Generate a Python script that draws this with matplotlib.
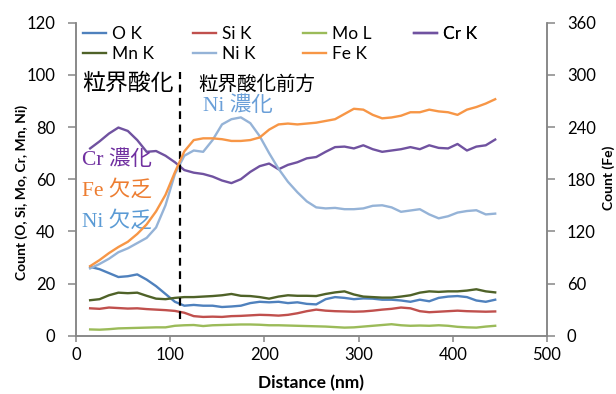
import matplotlib
matplotlib.use("Agg")
import matplotlib.pyplot as plt
from matplotlib.lines import Line2D

plt.rcParams['font.family'] = ['Lato', 'Noto Sans CJK JP', 'DejaVu Sans']

distance = [15, 25, 35, 45, 55, 65, 75, 85, 95, 105, 115, 125, 135, 145, 155,
            165, 175, 185, 195, 205, 215, 225, 235, 245, 255, 265, 275, 285,
            295, 305, 315, 325, 335, 345, 355, 365, 375, 385, 395, 405, 415,
            425, 435, 445]

o_k = [26.4, 25.5, 24.0, 22.5, 22.8, 23.5, 21.5, 19.0, 16.0, 13.0, 11.5, 11.8,
       11.5, 11.5, 11.0, 11.2, 11.5, 12.5, 13.0, 12.8, 13.0, 12.5, 12.8, 12.2,
       12.0, 14.0, 14.8, 14.5, 14.0, 14.3, 14.2, 13.8, 13.8, 13.5, 13.0, 13.8,
       13.2, 14.5, 15.0, 15.2, 14.8, 13.5, 13.0, 13.8]

si_k = [10.5, 10.3, 10.8, 10.6, 10.4, 10.5, 10.2, 10.0, 9.8, 9.5, 8.8, 7.5,
        7.2, 7.3, 7.2, 7.5, 7.6, 7.8, 8.0, 7.9, 7.7, 8.0, 8.6, 9.4, 10.0, 9.6,
        9.4, 9.3, 9.2, 9.3, 9.6, 10.0, 10.3, 10.8, 10.5, 9.4, 9.0, 9.2, 9.4,
        9.6, 9.4, 9.3, 9.2, 9.3]

mo_l = [2.4, 2.3, 2.5, 2.8, 2.9, 3.0, 3.1, 3.2, 3.2, 3.8, 4.0, 4.1, 3.7, 4.0,
        4.1, 4.2, 4.3, 4.3, 4.2, 4.0, 4.0, 3.9, 3.8, 3.7, 3.6, 3.5, 3.3, 3.1,
        3.2, 3.5, 3.8, 4.1, 4.4, 4.0, 3.8, 3.9, 3.8, 4.0, 3.8, 3.4, 3.2, 3.1,
        3.5, 3.8]

cr_k = [71.8, 74.5, 77.5, 79.8, 78.5, 75.0, 70.5, 70.8, 69.0, 66.5, 63.5, 62.5,
        62.0, 61.0, 59.5, 58.5, 60.0, 62.8, 65.0, 66.0, 63.8, 65.5, 66.5, 68.0,
        68.5, 70.5, 72.3, 72.5, 71.8, 73.0, 71.5, 70.5, 71.0, 71.5, 72.3, 71.5,
        73.0, 72.0, 71.8, 73.5, 71.0, 72.5, 73.0, 75.2]

mn_k = [13.6, 14.0, 15.5, 16.5, 16.3, 16.5, 15.3, 14.2, 14.0, 14.5, 14.8, 14.8,
        15.0, 15.2, 15.5, 16.0, 15.3, 15.2, 14.8, 14.2, 15.0, 15.5, 15.3, 15.3,
        15.2, 16.0, 16.6, 17.0, 15.8, 15.0, 14.8, 14.6, 14.6, 15.0, 15.5, 16.5,
        17.0, 16.8, 17.0, 17.0, 17.3, 17.8, 17.0, 16.6]

ni_k = [25.8, 27.5, 29.5, 32.0, 33.5, 35.5, 37.5, 41.5, 50.0, 62.0, 69.0, 71.0,
        70.5, 75.0, 81.0, 83.0, 83.7, 81.5, 76.5, 70.0, 64.0, 59.0, 55.0, 51.5,
        49.2, 48.8, 49.0, 48.5, 48.5, 48.8, 49.8, 50.0, 49.2, 47.5, 48.0, 48.5,
        46.5, 45.0, 45.8, 47.2, 47.8, 48.1, 46.5, 46.8]

# Fe on the secondary axis (0-360)
fe_k = [80, 87, 95, 102, 108, 117, 128, 143, 162, 188, 212, 225, 227, 227,
        226, 224, 224, 225, 228, 237, 243, 244, 243, 244, 245, 247, 249, 255,
        261, 260, 254, 250, 251, 253, 257, 257, 260, 258, 257, 254, 260, 263,
        267, 272]

series_left = [("O K", o_k, "#4F81BD"), ("Si K", si_k, "#C0504D"),
               ("Mo L", mo_l, "#9BBB59"), ("Cr K", cr_k, "#7052A0"),
               ("Mn K", mn_k, "#4F6228"), ("Ni K", ni_k, "#95B3D7")]

fig = plt.figure(figsize=(6.16, 3.94), dpi=100)
ax = fig.add_axes([76/616, 1-335.7/394, 471/616, 313/394])
ax2 = ax.twinx()

lines = {}
for name, vals, col in series_left:
    ln, = ax.plot(distance, vals, color=col, lw=1.7, label=name,
                  solid_joinstyle='round')
    lines[name] = ln
ln, = ax2.plot(distance, fe_k, color="#F79646", lw=1.7, label="Fe K")
lines["Fe K"] = ln

ax.plot([110, 110], [6.5, 101], color='black', lw=1.6,
        linestyle=(0, (3.5, 2.5)))

ax.set_xlim(0, 500)
ax.set_ylim(0, 120)
ax2.set_ylim(0, 360)
ax.set_xticks([0, 100, 200, 300, 400, 500])
ax.set_yticks(range(0, 121, 20))
ax2.set_yticks(range(0, 361, 60))

gray = "#868686"
for a in (ax, ax2):
    for s in a.spines.values():
        s.set_color(gray)
        s.set_linewidth(1.1)
    a.spines['top'].set_visible(False)
ax.tick_params(axis='y', length=5.8, width=1.1, color=gray, pad=9,
               labelsize=12, labelcolor='black')
ax.tick_params(axis='x', length=4.3, width=1.1, color=gray, pad=3.5,
               labelsize=12, labelcolor='black')
ax2.tick_params(axis='y', length=5.8, width=1.1, color=gray, pad=8.5,
                labelsize=12, labelcolor='black')

ax.set_xlabel("Distance (nm)", fontsize=12.5, fontweight='bold', labelpad=9)
fig.text(21.7/616, 1-192.5/394, "Count (O, Si, Mo, Cr, Mn, Ni)",
         rotation=90, ha='center', va='center', fontsize=10,
         fontweight='bold')
fig.text(609/616, 1-178/394, "Count (Fe)", rotation=90, ha='center',
         va='center', fontsize=10, fontweight='bold')

# legend: 4 columns x 2 rows
cols = [["O K", "Mn K"], ["Si K", "Ni K"], ["Mo L", "Fe K"], ["Cr K"]]
col_x = [83, 193, 303, 414]
for names, px in zip(cols, col_x):
    leg = ax.legend([lines[n] for n in names], names, loc='upper left',
                    bbox_to_anchor=((px-76)/471, 0.99),
                    bbox_transform=ax.transAxes, frameon=False,
                    borderpad=0, borderaxespad=0, handlelength=1.35,
                    handletextpad=0.3, labelspacing=0.25, fontsize=12.5)
    ax.add_artist(leg)


def px2data(px, py):
    return (px-76)/0.942, (335.7-py)/2.61


serif_cjk = ['Liberation Serif', 'Noto Sans CJK JP']
notes = [("粒界酸化", 82, 83, 'black', 16.5, ['Noto Sans CJK JP']),
         ("粒界酸化前方", 198, 84, 'black', 14, ['Noto Sans CJK JP']),
         ("Ni 濃化", 203, 106, '#6A9FD8', 15.5, serif_cjk),
         ("Cr 濃化", 82, 160, '#7030A0', 15.5, serif_cjk),
         ("Fe 欠乏", 82, 190, '#ED7D31', 15.5, serif_cjk),
         ("Ni 欠乏", 82, 221, '#5B9BD5', 15.5, serif_cjk)]
for txt, px, py, col, fs, fam in notes:
    xd, yd = px2data(px, py)
    ax.text(xd, yd, txt, color=col, fontsize=fs, family=fam,
            ha='left', va='center')

fig.savefig("out.png", dpi=100)
